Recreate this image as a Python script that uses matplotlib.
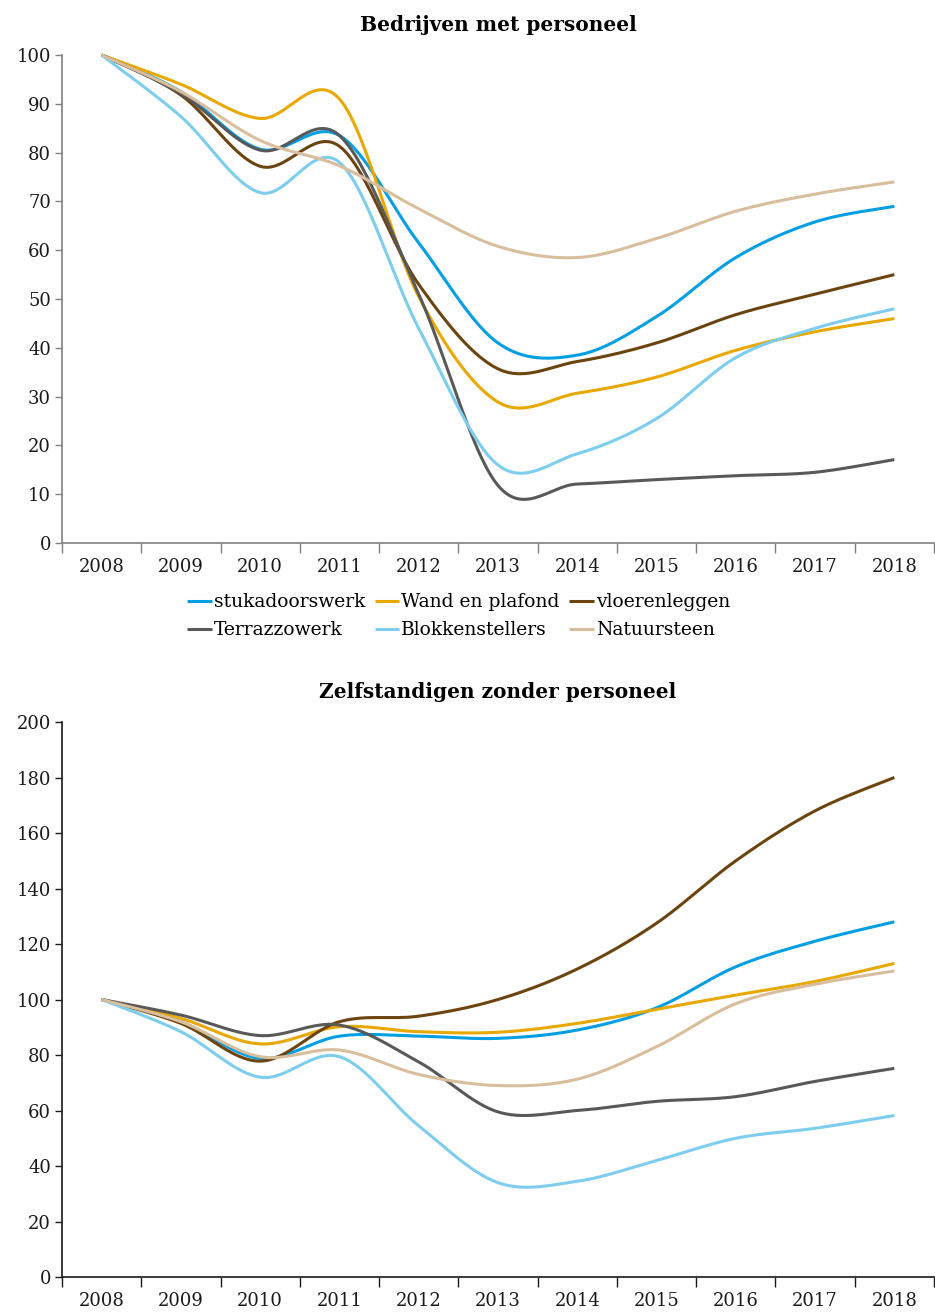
import numpy as np
import matplotlib
matplotlib.use("Agg")
import matplotlib.pyplot as plt

years = ["2008", "2009", "2010", "2011", "2012", "2013", "2014", "2015", "2016", "2017", "2018"]
series_names = ["stukadoorswerk", "Wand en plafond", "vloerenleggen",
                "Terrazzowerk", "Blokkenstellers", "Natuursteen"]
colors = ["#009FE3", "#E9A800", "#6B4410", "#595959", "#7DCDEF", "#D9BE9E"]

# Bedrijven met personeel (index 2008 = 100)
bmp_stukadoor = [100, 92.5, 80.7, 83.5, 61.5, 41, 38.5, 46.4, 58.5, 65.8, 69]
bmp_wand = [100, 94, 87, 91, 50.5, 28.9, 30.7, 34, 39.5, 43.3, 46]
bmp_vloer = [100, 91.8, 77.2, 81.3, 53, 35.7, 37.2, 41, 46.8, 51, 55]
bmp_terrazzo = [100, 92.1, 80.5, 83.5, 51, 11.8, 12.1, 13, 13.8, 14.5, 17.1]
bmp_blok = [100, 87.4, 71.8, 78, 44, 16, 18.3, 25.5, 38, 44, 48]
bmp_natuur = [100, 92.5, 82.5, 77.3, 68.5, 60.8, 58.5, 62.4, 68, 71.5, 74]

# Zelfstandigen zonder personeel (index 2008 = 100)
zzp_stukadoor = [100, 92, 78.8, 86.8, 86.8, 86, 89, 97, 111.8, 121, 128]
zzp_wand = [100, 93.2, 84, 90.2, 88.4, 88.2, 91.4, 96.5, 101.6, 106.5, 113]
zzp_vloer = [100, 91.4, 77.8, 92, 94, 100, 111, 127.5, 150, 168, 180]
zzp_terrazzo = [100, 94.4, 87, 90.8, 77.5, 59.5, 60, 63.3, 65, 70.5, 75.2]
zzp_blok = [100, 88.4, 72, 79.4, 54.5, 34, 34.5, 42, 50, 53.6, 58.2]
zzp_natuur = [100, 92, 79.4, 81.8, 73, 69, 71.3, 83, 98.5, 105.5, 110.3]

FONT = "DejaVu Serif"


def smooth(y, steps=30):
    # Excel-like smoothed line: Catmull-Rom bezier between the points
    y = np.asarray(y, dtype=float)
    x = np.arange(len(y), dtype=float)
    xs, ys = [], []
    for i in range(len(y) - 1):
        p0 = i - 1 if i > 0 else i
        p3 = i + 2 if i + 2 < len(y) else i + 1
        t = np.linspace(0, 1, steps, endpoint=False)
        for arr, out in ((x, xs), (y, ys)):
            a, b = arr[i], arr[i + 1]
            c1 = a + (b - arr[p0]) / 6
            c2 = b - (arr[p3] - a) / 6
            out.extend((1 - t) ** 3 * a + 3 * (1 - t) ** 2 * t * c1
                       + 3 * (1 - t) * t ** 2 * c2 + t ** 3 * b)
    xs.append(x[-1])
    ys.append(y[-1])
    return np.array(xs), np.array(ys)


def draw_panel(ax, data, title, ymax, ystep, spine_color):
    for vals, name, col in zip(data, series_names, colors):
        sx, sy = smooth(vals)
        ax.plot(sx, sy, color=col, lw=2.2, label=name, clip_on=False,
                solid_capstyle="butt")
    ax.set_xlim(-0.5, len(years) - 0.5)
    ax.set_ylim(0, ymax)
    ax.set_yticks(np.arange(0, ymax + 1, ystep))
    ax.set_xticks(np.arange(-0.5, len(years), 1.0))
    ax.set_xticklabels([])
    ax.set_xticks(np.arange(len(years)), minor=True)
    ax.set_xticklabels(years, minor=True)
    ax.tick_params(axis="x", which="major", length=7, width=1, color=spine_color)
    ax.tick_params(axis="x", which="minor", length=0, pad=11, labelsize=13)
    ax.tick_params(axis="y", length=5, width=1, color=spine_color, labelsize=13, pad=3)
    for lab in ax.get_xticklabels(minor=True) + ax.get_yticklabels():
        lab.set_family(FONT)
        lab.set_color("#1a1a1a")
    for s in ["top", "right"]:
        ax.spines[s].set_visible(False)
    for s in ["left", "bottom"]:
        ax.spines[s].set_color(spine_color)
        ax.spines[s].set_linewidth(1.2)
    ax.set_title(title, fontsize=14.5, fontweight="bold", family=FONT, pad=17)


fig = plt.figure(figsize=(9.35, 13.13), dpi=100)
ax1 = fig.add_axes([0.0663, 0.5864, 0.9326, 0.3717])
ax2 = fig.add_axes([0.0663, 0.0274, 0.9326, 0.4227])

draw_panel(ax1, [bmp_stukadoor, bmp_wand, bmp_vloer, bmp_terrazzo, bmp_blok, bmp_natuur],
           "Bedrijven met personeel", 100, 10, "#808080")
draw_panel(ax2, [zzp_stukadoor, zzp_wand, zzp_vloer, zzp_terrazzo, zzp_blok, zzp_natuur],
           "Zelfstandigen zonder personeel", 200, 20, "#1a1a1a")

# legend is filled column by column, so reorder to get the rows right
handles, labels = ax1.get_legend_handles_labels()
order = [0, 3, 1, 4, 2, 5]
leg = ax1.legend([handles[i] for i in order], [labels[i] for i in order],
                 ncol=3, loc="upper center", bbox_to_anchor=(0.455, -0.068),
                 frameon=False, prop={"family": FONT, "size": 13.5},
                 handlelength=1.3, handletextpad=0.12, columnspacing=0.5,
                 labelspacing=0.55)

fig.savefig("out.png", dpi=100)
